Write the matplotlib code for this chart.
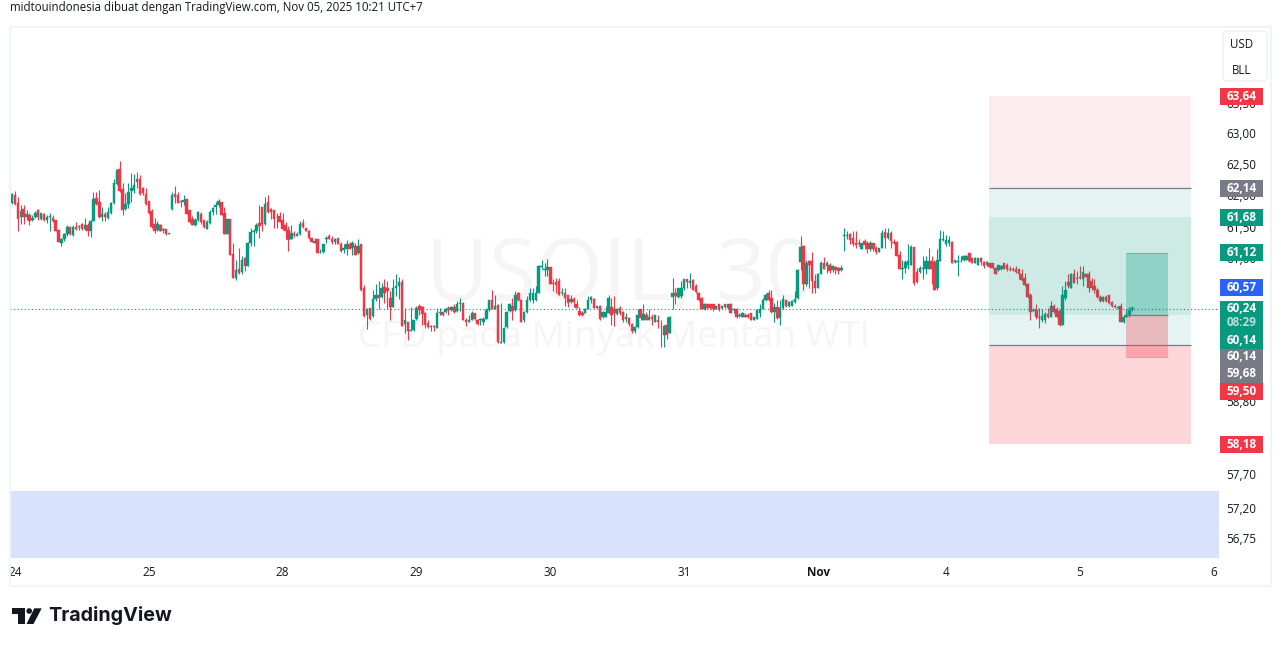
"""USOIL 30 menit, layout TradingView."""

import matplotlib
matplotlib.use("Agg")
import matplotlib.pyplot as plt
import numpy as np
from matplotlib.patches import Circle, Polygon, Rectangle, FancyBboxPatch
from matplotlib.ticker import NullLocator
from matplotlib.transforms import ScaledTranslation

# OHLC (bar 30 menit)
opens = [
    62.20, 61.91, 62.03, 61.90, 61.69, 61.81, 61.69, 61.72, 61.63, 61.68, 61.80, 61.65, 61.74, 61.63, 61.69, 61.67,
    61.63, 61.48, 61.27, 61.33, 61.41, 61.53, 61.40, 61.52, 61.53, 61.58, 61.50, 61.55, 61.46, 61.62, 61.99, 61.92,
    61.68, 61.73, 61.67, 61.75, 61.91, 62.21, 62.46, 62.13, 61.81, 61.89, 62.10, 62.11, 62.30, 62.29, 62.14, 62.05, 61.94,
    61.78, 61.58, 61.48, 61.56, 61.48, 61.50, 61.42, 61.81, 62.05, 62.03, 61.94, 61.92, 61.97, 61.79, 61.66, 61.56,
    61.63, 61.74, 61.64, 61.50, 61.59, 61.77, 61.84, 61.88, 61.93, 61.75, 61.41, 61.66, 61.10, 60.72, 60.87, 60.82,
    61.03, 60.91, 61.27, 61.45, 61.46, 61.59, 61.85, 61.58, 61.92, 61.81, 61.80, 61.68, 61.70, 61.63, 61.55, 61.48,
    61.34, 61.42, 61.39, 61.42, 61.59, 61.51, 61.47, 61.35, 61.28, 61.33, 61.11, 61.13, 61.34, 61.38, 61.33, 61.29,
    61.35, 61.25, 61.16, 61.17, 61.25, 61.20, 61.22, 61.11, 61.25, 60.56, 60.15, 60.25, 60.13, 60.39, 60.45, 60.43,
    60.58, 60.56, 60.41, 60.27, 60.57, 60.59, 60.66, 60.01, 60.04, 59.90, 59.91, 60.08, 60.28, 60.27, 60.18, 60.02,
    59.96, 59.98, 59.95, 60.17, 60.19, 60.19, 60.25, 60.22, 60.27, 60.20, 60.31, 60.33, 60.07, 60.04, 60.06, 60.17,
    60.07, 60.07, 60.04, 60.09, 60.22, 60.37, 60.24, 60.30, 59.71, 59.72, 59.96, 60.20, 60.29, 60.22, 60.48, 60.38,
    60.06, 60.19, 60.37, 60.38, 60.38, 60.48, 60.89, 60.85, 60.85, 60.89, 60.65, 60.66, 60.67, 60.49, 60.48, 60.46,
    60.34, 60.40, 60.32, 60.20, 60.18, 60.18, 60.24, 60.37, 60.40, 60.26, 60.29, 60.11, 60.11, 60.18, 60.27, 60.23,
    60.16, 60.25, 60.19, 60.08, 60.10, 60.00, 59.89, 59.96, 60.23, 60.07, 60.15, 60.07, 60.12, 60.04, 60.06, 59.98,
    59.84, 59.99, 59.87, 60.43, 60.48, 60.43, 60.44, 60.57, 60.70, 60.65, 60.69, 60.59, 60.49, 60.41, 60.24, 60.31,
    60.31, 60.31, 60.24, 60.31, 60.25, 60.31, 60.25, 60.31, 60.22, 60.24, 60.13, 60.12, 60.15, 60.15, 60.18, 60.07,
    60.09, 60.17, 60.24, 60.38, 60.48, 60.41, 60.19, 60.27, 60.10, 60.25, 60.38, 60.29, 60.29, 60.35, 60.41, 60.97,
    61.22, 60.62, 60.99, 60.99, 60.68, 60.57, 60.79, 60.96, 60.91, 60.93, 60.84, 60.89, 60.88, 60.85,
    61.38, 61.38, 61.42, 61.35, 61.28, 61.27, 61.17, 61.30, 61.27, 61.17, 61.27, 61.20, 61.13, 61.20, 61.45, 61.35,
    61.43, 61.29, 61.29, 61.09, 60.86, 60.88, 60.93, 60.93, 61.21, 60.82, 60.82, 60.87, 60.87, 60.86, 60.99, 60.98,
    60.56, 60.99, 61.32, 61.26, 61.27, 61.29, 60.98, 60.98, 60.99, 61.01, 61.01, 61.11, 61.04, 60.96, 60.93, 61.04,
    60.98, 60.92, 60.95, 60.95, 60.88, 60.85, 60.86, 60.95, 60.93, 60.87, 60.87, 60.87, 60.86, 60.78, 60.72, 60.62,
    60.46, 60.20, 60.22, 60.12, 60.06, 60.07, 60.16, 60.12, 60.29, 60.23, 60.21, 59.99, 60.41, 60.66, 60.57, 60.79,
    60.72, 60.74, 60.71, 60.78, 60.78, 60.67, 60.59, 60.53, 60.43, 60.36, 60.42, 60.45, 60.34, 60.29, 60.26, 60.28,
    60.03, 60.12, 60.15, 60.23,
]
closes = [
    61.75, 62.05, 61.89, 61.66, 61.78, 61.69, 61.74, 61.62, 61.67, 61.75, 61.68, 61.75, 61.64, 61.69, 61.70, 61.62,
    61.46, 61.29, 61.33, 61.41, 61.52, 61.42, 61.53, 61.50, 61.54, 61.50, 61.55, 61.46, 61.62, 61.97, 61.89, 61.69,
    61.73, 61.68, 61.76, 61.90, 62.23, 62.44, 62.10, 61.79, 61.89, 62.09, 62.15, 62.19, 62.24, 62.05, 62.06, 61.89, 61.75,
    61.53, 61.46, 61.58, 61.47, 61.50, 61.41, 61.43, 62.03, 62.01, 61.91, 61.92, 61.96, 61.74, 61.61, 61.56, 61.63,
    61.77, 61.61, 61.53, 61.61, 61.76, 61.83, 61.88, 61.94, 61.72, 61.42, 61.66, 61.08, 60.72, 60.84, 60.80, 61.01,
    60.91, 61.28, 61.45, 61.47, 61.56, 61.54, 61.58, 61.89, 61.77, 61.76, 61.66, 61.69, 61.61, 61.50, 61.47, 61.32,
    61.43, 61.40, 61.42, 61.58, 61.52, 61.46, 61.35, 61.29, 61.30, 61.11, 61.12, 61.26, 61.35, 61.34, 61.29, 61.33,
    61.25, 61.14, 61.20, 61.25, 61.18, 61.28, 61.09, 61.22, 60.53, 60.13, 60.23, 60.09, 60.39, 60.45, 60.41, 60.56,
    60.48, 60.52, 60.27, 60.56, 60.59, 60.66, 59.98, 60.06, 59.89, 59.91, 60.07, 60.25, 60.22, 60.16, 59.99, 59.96,
    59.98, 59.96, 60.18, 60.19, 60.14, 60.24, 60.22, 60.27, 60.19, 60.31, 60.33, 60.06, 60.04, 60.07, 60.18, 60.08,
    60.01, 60.09, 60.08, 60.22, 60.38, 60.24, 60.29, 59.72, 59.72, 59.94, 60.19, 60.31, 60.20, 60.45, 60.38, 60.04,
    60.19, 60.38, 60.48, 60.48, 60.48, 60.91, 60.91, 60.86, 60.89, 60.63, 60.62, 60.61, 60.46, 60.50, 60.41, 60.33,
    60.40, 60.34, 60.26, 60.15, 60.15, 60.24, 60.37, 60.42, 60.26, 60.28, 60.09, 60.19, 60.19, 60.41, 60.15, 60.18,
    60.24, 60.17, 60.06, 60.11, 60.01, 59.89, 59.96, 60.15, 60.10, 60.16, 60.07, 60.12, 60.08, 60.15, 60.04, 59.97,
    59.98, 59.84, 60.12, 60.49, 60.44, 60.56, 60.57, 60.70, 60.66, 60.67, 60.54, 60.50, 60.38, 60.24, 60.32, 60.25,
    60.25, 60.24, 60.29, 60.24, 60.28, 60.27, 60.31, 60.18, 60.24, 60.11, 60.15, 60.18, 60.12, 60.11, 60.07, 60.11,
    60.22, 60.24, 60.38, 60.46, 60.38, 60.19, 60.27, 60.10, 60.25, 60.40, 60.29, 60.34, 60.36, 60.40, 60.84, 61.21,
    60.62, 60.95, 60.93, 60.67, 60.57, 60.79, 60.96, 60.87, 60.95, 60.83, 60.91, 60.85, 60.83, 60.88,
    61.40, 61.40, 61.32, 61.25, 61.24, 61.26, 61.27, 61.24, 61.17, 61.28, 61.18, 61.13, 61.19, 61.43, 61.35, 61.43,
    61.30, 61.27, 61.06, 60.86, 60.88, 60.98, 60.99, 61.21, 60.65, 60.66, 60.88, 60.88, 60.99, 60.99, 60.86, 60.53,
    61.00, 61.33, 61.34, 61.32, 61.32, 60.95, 61.00, 60.99, 60.99, 61.06, 61.06, 60.99, 60.96, 61.04, 61.04, 60.97,
    60.91, 60.98, 60.90, 60.88, 60.78, 60.92, 60.91, 60.87, 60.86, 60.85, 60.85, 60.82, 60.78, 60.69, 60.61, 60.43,
    60.19, 60.22, 60.12, 60.10, 60.13, 60.16, 60.12, 60.29, 60.19, 60.12, 59.99, 60.45, 60.53, 60.59, 60.78, 60.65,
    60.70, 60.72, 60.81, 60.74, 60.57, 60.57, 60.54, 60.43, 60.36, 60.42, 60.36, 60.33, 60.29, 60.27, 60.27, 60.04,
    60.11, 60.15, 60.22, 60.25,
]
highs = [
    62.22, 62.06, 62.10, 62.01, 61.88, 61.88, 61.80, 61.75, 61.72, 61.78, 61.81, 61.75, 61.75, 61.72, 61.75, 61.72,
    61.63, 61.50, 61.35, 61.43, 61.56, 61.54, 61.56, 61.60, 61.56, 61.59, 61.67, 61.59, 61.64, 62.08, 62.09, 62.12,
    61.85, 61.77, 61.85, 61.93, 62.29, 62.45, 62.58, 62.22, 62.06, 62.22, 62.39, 62.37, 62.40, 62.35, 62.16, 62.14, 61.94,
    61.81, 61.67, 61.62, 61.58, 61.51, 61.50, 61.43, 62.08, 62.18, 62.09, 61.96, 62.03, 61.97, 61.80, 61.70, 61.67,
    61.78, 61.76, 61.64, 61.63, 61.80, 61.85, 61.93, 61.97, 61.93, 61.84, 61.66, 61.66, 61.28, 61.01, 61.19, 61.06,
    61.05, 61.29, 61.51, 61.50, 61.59, 61.87, 61.85, 62.01, 62.04, 61.82, 61.80, 61.75, 61.76, 61.75, 61.61, 61.54,
    61.55, 61.46, 61.44, 61.62, 61.66, 61.51, 61.48, 61.35, 61.35, 61.33, 61.17, 61.26, 61.39, 61.41, 61.38, 61.35,
    61.35, 61.29, 61.25, 61.32, 61.29, 61.30, 61.28, 61.34, 61.26, 60.61, 60.26, 60.26, 60.54, 60.62, 60.68, 60.65,
    60.70, 60.67, 60.52, 60.70, 60.79, 60.73, 60.70, 60.26, 60.04, 60.27, 60.07, 60.28, 60.31, 60.28, 60.19, 60.07,
    59.99, 59.99, 60.25, 60.25, 60.19, 60.25, 60.29, 60.29, 60.31, 60.36, 60.41, 60.34, 60.10, 60.15, 60.20, 60.17,
    60.08, 60.10, 60.12, 60.25, 60.38, 60.53, 60.46, 60.31, 60.33, 59.96, 60.20, 60.33, 60.41, 60.52, 60.50, 60.39,
    60.20, 60.44, 60.57, 60.57, 60.59, 60.93, 61.00, 60.96, 61.02, 60.89, 60.70, 60.72, 60.72, 60.57, 60.57, 60.46,
    60.45, 60.43, 60.38, 60.27, 60.20, 60.25, 60.44, 60.44, 60.41, 60.28, 60.30, 60.20, 60.28, 60.45, 60.41, 60.44,
    60.25, 60.29, 60.20, 60.18, 60.12, 60.02, 59.97, 60.24, 60.24, 60.31, 60.19, 60.24, 60.16, 60.15, 60.15, 60.07,
    59.99, 60.12, 60.13, 60.72, 60.57, 60.57, 60.67, 60.70, 60.71, 60.80, 60.70, 60.62, 60.50, 60.43, 60.33, 60.31,
    60.31, 60.31, 60.29, 60.31, 60.29, 60.31, 60.32, 60.33, 60.25, 60.25, 60.18, 60.19, 60.18, 60.17, 60.18, 60.12,
    60.23, 60.31, 60.41, 60.49, 60.54, 60.53, 60.33, 60.38, 60.38, 60.45, 60.38, 60.36, 60.38, 60.52, 60.86, 61.39,
    61.23, 61.01, 61.00, 61.13, 60.78, 60.80, 60.99, 61.05, 60.99, 60.96, 60.93, 60.91, 60.89, 60.93,
    61.51, 61.47, 61.43, 61.47, 61.47, 61.33, 61.27, 61.34, 61.30, 61.30, 61.28, 61.22, 61.20, 61.48, 61.51, 61.51,
    61.46, 61.33, 61.30, 61.14, 61.01, 61.01, 61.25, 61.24, 61.21, 60.88, 60.91, 61.06, 61.06, 61.20, 61.06, 61.01,
    61.18, 61.48, 61.46, 61.40, 61.39, 61.30, 61.01, 61.09, 61.06, 61.09, 61.09, 61.11, 61.04, 61.05, 61.04, 61.05,
    60.99, 60.99, 60.96, 60.96, 60.90, 60.93, 60.93, 60.96, 60.95, 60.91, 60.90, 60.91, 60.87, 60.86, 60.80, 60.64,
    60.48, 60.25, 60.31, 60.25, 60.23, 60.19, 60.25, 60.36, 60.31, 60.27, 60.23, 60.59, 60.67, 60.78, 60.80, 60.87,
    60.83, 60.91, 60.91, 60.80, 60.83, 60.72, 60.70, 60.57, 60.46, 60.44, 60.46, 60.46, 60.36, 60.31, 60.28, 60.33,
    60.14, 60.23, 60.27, 60.28,
]
lows = [
    61.72, 61.89, 61.88, 61.47, 61.58, 61.58, 61.64, 61.56, 61.62, 61.67, 61.63, 61.63, 61.62, 61.59, 61.46, 61.60,
    61.46, 61.29, 61.22, 61.30, 61.38, 61.40, 61.39, 61.48, 61.48, 61.48, 61.48, 61.39, 61.36, 61.62, 61.88, 61.67,
    61.62, 61.62, 61.65, 61.74, 61.89, 62.20, 62.09, 61.71, 61.80, 61.82, 61.93, 62.06, 62.14, 62.03, 62.03, 61.88, 61.73,
    61.51, 61.43, 61.46, 61.46, 61.43, 61.40, 61.41, 61.80, 61.90, 61.91, 61.85, 61.88, 61.74, 61.59, 61.55, 61.54,
    61.62, 61.58, 61.51, 61.50, 61.58, 61.72, 61.73, 61.85, 61.71, 61.41, 61.41, 61.08, 60.72, 60.69, 60.78, 60.79,
    60.83, 60.91, 61.22, 61.22, 61.43, 61.35, 61.46, 61.56, 61.75, 61.66, 61.51, 61.51, 61.61, 61.48, 61.34, 61.14,
    61.33, 61.37, 61.38, 61.40, 61.51, 61.46, 61.34, 61.29, 61.28, 61.11, 61.11, 61.12, 61.28, 61.33, 61.25, 61.25,
    61.25, 61.13, 61.12, 61.09, 61.17, 61.08, 61.08, 61.10, 60.52, 60.11, 59.93, 60.07, 60.11, 60.36, 60.23, 60.41,
    60.33, 60.23, 60.07, 60.27, 60.44, 60.39, 59.97, 59.86, 59.76, 59.89, 59.89, 60.07, 60.15, 59.99, 59.94, 59.94,
    59.89, 59.89, 59.95, 60.15, 60.13, 60.17, 60.15, 60.20, 60.18, 60.19, 60.20, 60.06, 59.97, 60.03, 60.06, 60.07,
    59.99, 59.99, 59.99, 60.08, 60.20, 60.23, 60.23, 59.71, 59.71, 59.71, 59.94, 60.19, 60.07, 60.20, 60.36, 60.03,
    60.04, 60.18, 60.36, 60.33, 60.36, 60.48, 60.86, 60.75, 60.75, 60.62, 60.52, 60.48, 60.45, 60.46, 60.29, 60.27,
    60.33, 60.27, 60.26, 60.13, 60.13, 60.17, 60.23, 60.33, 60.25, 60.25, 60.07, 60.10, 60.11, 60.17, 59.99, 59.97,
    60.15, 60.15, 60.04, 60.04, 59.97, 59.86, 59.87, 59.94, 60.07, 60.06, 60.06, 60.06, 59.99, 60.03, 59.94, 59.65,
    59.65, 59.77, 59.86, 60.23, 60.31, 60.41, 60.41, 60.54, 60.57, 60.57, 60.53, 60.48, 60.36, 60.23, 60.22, 60.24,
    60.23, 60.20, 60.23, 60.20, 60.24, 60.25, 60.24, 60.18, 60.18, 60.10, 60.12, 60.11, 60.11, 60.10, 60.06, 60.06,
    60.08, 60.12, 60.23, 60.36, 60.36, 60.18, 60.03, 60.09, 59.99, 60.24, 60.27, 60.27, 60.29, 60.33, 60.40, 60.85,
    60.53, 60.59, 60.57, 60.49, 60.48, 60.57, 60.78, 60.86, 60.80, 60.80, 60.81, 60.78, 60.79, 60.83,
    61.14, 61.33, 61.25, 61.23, 61.20, 61.22, 61.17, 61.17, 61.12, 61.14, 61.14, 61.10, 61.13, 61.20, 61.20, 61.34,
    61.20, 61.26, 61.06, 60.86, 60.71, 60.80, 60.86, 60.93, 60.61, 60.64, 60.80, 60.70, 60.78, 60.86, 60.62, 60.53,
    60.53, 60.99, 61.30, 61.22, 61.22, 60.95, 60.96, 60.75, 60.98, 60.99, 61.00, 60.98, 60.96, 60.96, 60.93, 60.93,
    60.88, 60.91, 60.88, 60.87, 60.78, 60.83, 60.85, 60.86, 60.83, 60.83, 60.83, 60.80, 60.70, 60.67, 60.59, 60.41,
    60.06, 60.20, 60.08, 59.95, 60.04, 60.02, 60.10, 60.11, 60.18, 60.11, 59.98, 59.99, 60.38, 60.57, 60.56, 60.64,
    60.62, 60.70, 60.59, 60.74, 60.50, 60.54, 60.49, 60.41, 60.35, 60.34, 60.34, 60.31, 60.27, 60.26, 60.23, 60.03,
    60.02, 60.11, 60.12, 60.20,
]

# harga pada sumbu kanan
price_ticks = [63.50, 63.00, 62.50, 62.00, 61.50, 61.00, 58.80, 57.70, 57.20, 56.75]
date_ticks = [2, 48, 94, 140, 186, 232, 278, 322, 368, 414]
date_labels = ["24", "25", "28", "29", "30", "31", "Nov", "4", "5", "6"]

last_price = 60.24
entry_a = 60.14
stop_a = 59.50
target_a = 61.12
top_target = 63.64
upper_line = 62.14
mid_target = 61.68
lower_line = 59.68
bottom_stop = 58.18
band_top = 57.48

GREEN = "#089981"
RED = "#f23645"
GREY = "#787b86"
BLUE = "#2962ff"
INK = "#131722"
FRAME = "#f0f3fa"
FONT = ["Open Sans", "DejaVu Sans"]

plt.rcParams["font.family"] = FONT

W, H = 1281, 646
fig = plt.figure(figsize=(W / 100, H / 100), dpi=100, facecolor="white")

# panel harga
ax = fig.add_axes([10 / W, (H - 558) / H, 1209 / W, 532 / H], zorder=1)
ax.set_yscale("log")
ax.set_ylim(56.49, 64.80)
ax.set_xlim(0.31, 415.8)
for s in ax.spines.values():
    s.set_visible(False)

ax.yaxis.tick_right()
ax.set_yticks(price_ticks)
ax.set_yticklabels([f"{p:.2f}".replace(".", ",") for p in price_ticks], fontsize=8.5, color=INK, ha="left")
ax.yaxis.set_minor_locator(NullLocator())
ax.tick_params(axis="y", length=0, pad=5.5)
for lab in ax.get_yticklabels():
    lab.set_transform(lab.get_transform() + ScaledTranslation(0, 0.018, fig.dpi_scale_trans))
ax.set_xticks(date_ticks)
ax.set_xticklabels(date_labels, fontsize=8.5, color=INK)
ax.get_xticklabels()[6].set_fontweight("bold")
ax.tick_params(axis="x", length=0, pad=6)

# watermark
ax.text(0.505, 0.485, "USOIL, 30", transform=ax.transAxes, ha="center", va="baseline",
        fontsize=62, color="#f5f5f6", zorder=0)
ax.text(0.5, 0.397, "CFD pada Minyak Mentah WTI", transform=ax.transAxes, ha="center", va="baseline",
        fontsize=26.5, color="#f5f5f6", zorder=0)

# zona biru bawah
ax.axhspan(56.49, band_top, color="#d9e2fd", lw=0, zorder=1)

# candle
x = np.arange(len(closes))
o = np.array(opens)
c = np.array(closes)
colors = [GREEN if b >= a else RED for a, b in zip(o, c)]
ax.vlines(x, lows, highs, colors=colors, lw=0.8, zorder=2)
ax.bar(x, np.abs(c - o), bottom=np.minimum(o, c), width=0.85, color=colors, lw=0.3, edgecolor=colors, zorder=3)

# alat posisi besar
x0, x1 = 336.7, 406.2
ax.fill_between([x0, x1], upper_line, top_target, color=RED, alpha=0.09, lw=0, zorder=4)
ax.fill_between([x0, x1], mid_target, upper_line, color=GREEN, alpha=0.1, lw=0, zorder=4)
ax.fill_between([x0, x1], entry_a, mid_target, color=GREEN, alpha=0.2, lw=0, zorder=4)
ax.fill_between([x0, x1], lower_line, entry_a, color=GREEN, alpha=0.1, lw=0, zorder=4)
ax.fill_between([x0, x1], bottom_stop, lower_line, color=RED, alpha=0.2, lw=0, zorder=4)
ax.hlines([upper_line, lower_line], x0, x1, color=GREY, lw=0.9, zorder=5)

# alat posisi kecil
xa, xb = 383.8, 398.2
ax.fill_between([xa, xb], entry_a, target_a, color=GREEN, alpha=0.3, lw=0, zorder=5)
ax.fill_between([xa, xb], stop_a, entry_a, color=RED, alpha=0.3, lw=0, zorder=5)
ax.hlines(entry_a, xa, xb, color=GREY, lw=0.9, zorder=6)
ax.hlines(target_a, xa, xb, color=GREEN, lw=0.7, alpha=0.4, zorder=6)
ax.hlines(stop_a, xa, xb, color=RED, lw=0.7, alpha=0.4, zorder=6)
ax.plot([382, 384, 385.5], [entry_a, entry_a, 60.26], color=GREY, lw=0.8, ls=(0, (2, 1)), alpha=0.7, zorder=6)

# garis harga terakhir
ax.axhline(last_price, color=GREEN, lw=0.8, ls=(0, (1, 2.2)), zorder=7)

# lapisan dekorasi dalam piksel
top = fig.add_axes([0, 0, 1, 1], zorder=2)
top.set_xlim(0, W)
top.set_ylim(H, 0)
top.axis("off")
top.patch.set_alpha(0)

for seg in [([10, 1271], [26.5, 26.5]), ([10, 1271], [585.5, 585.5]), ([10, 10], [26.5, 585.5]), ([1271, 1271], [26.5, 585.5])]:
    top.plot(seg[0], seg[1], color=FRAME, lw=1.5, solid_capstyle="butt")

top.text(10, 8, "midtouindonesia dibuat dengan TradingView.com, Nov 05, 2025 10:21 UTC+7",
         fontsize=8.3, color=INK, va="center", ha="left")

# kotak USD/BLL
top.add_patch(FancyBboxPatch((1226, 34), 38, 44, boxstyle="round,pad=3,rounding_size=4",
                             fc="white", ec="#eceef2", lw=0.9))
top.text(1241.5, 44, "USD", fontsize=8.3, color=INK, ha="center", va="center")
top.text(1241.5, 70, "BLL", fontsize=8.3, color=INK, ha="center", va="center")

# label harga
tags = [
    ("63,64", RED, 88, 104.5), ("62,14", GREY, 180, 197), ("61,68", GREEN, 209, 226),
    ("61,12", GREEN, 244, 261), ("60,57", BLUE, 279, 296), ("58,18", RED, 436, 453),
]
for txt, col, y0, y1 in tags:
    top.add_patch(Rectangle((1220, y0), 43, y1 - y0, fc=col, ec="none", zorder=3))
    top.text(1241.5, (y0 + y1) / 2, txt, fontsize=8.5, color="white", ha="center", va="center",
             fontweight="bold", zorder=4)

top.add_patch(Rectangle((1220, 301), 43, 48, fc=GREEN, ec="none", zorder=3))
top.add_patch(Rectangle((1220, 349), 43, 34, fc=GREY, ec="none", zorder=3))
top.add_patch(Rectangle((1220, 383), 43, 17, fc=RED, ec="none", zorder=3))
for txt, col, y in [("60,24", "white", 309), ("08:29", "#b5e0d7", 323), ("60,14", "white", 340),
                    ("60,14", "white", 357), ("59,68", "white", 373.5), ("59,50", "white", 391.5)]:
    top.text(1241.5, y, txt, fontsize=8.5, color=col, ha="center", va="center", fontweight="bold", zorder=4)

# logo TradingView
logo = "#131722"
top.add_patch(Polygon([(12.3, 608.3), (25, 608.3), (25, 624), (18.3, 624), (18.3, 613.5), (12.3, 613.5)], fc=logo, ec="none"))
top.add_patch(Circle((29.2, 611), 2.8, fc=logo, ec="none"))
top.add_patch(Polygon([(34.3, 608.3), (41.7, 608.3), (33.5, 624), (26.5, 624)], fc=logo, ec="none"))
top.text(48, 615.5, "TradingView", fontsize=14.2, fontweight="bold", color=logo, family=["Inter", "DejaVu Sans"],
         ha="left", va="center")

fig.savefig("out.png", dpi=100)
